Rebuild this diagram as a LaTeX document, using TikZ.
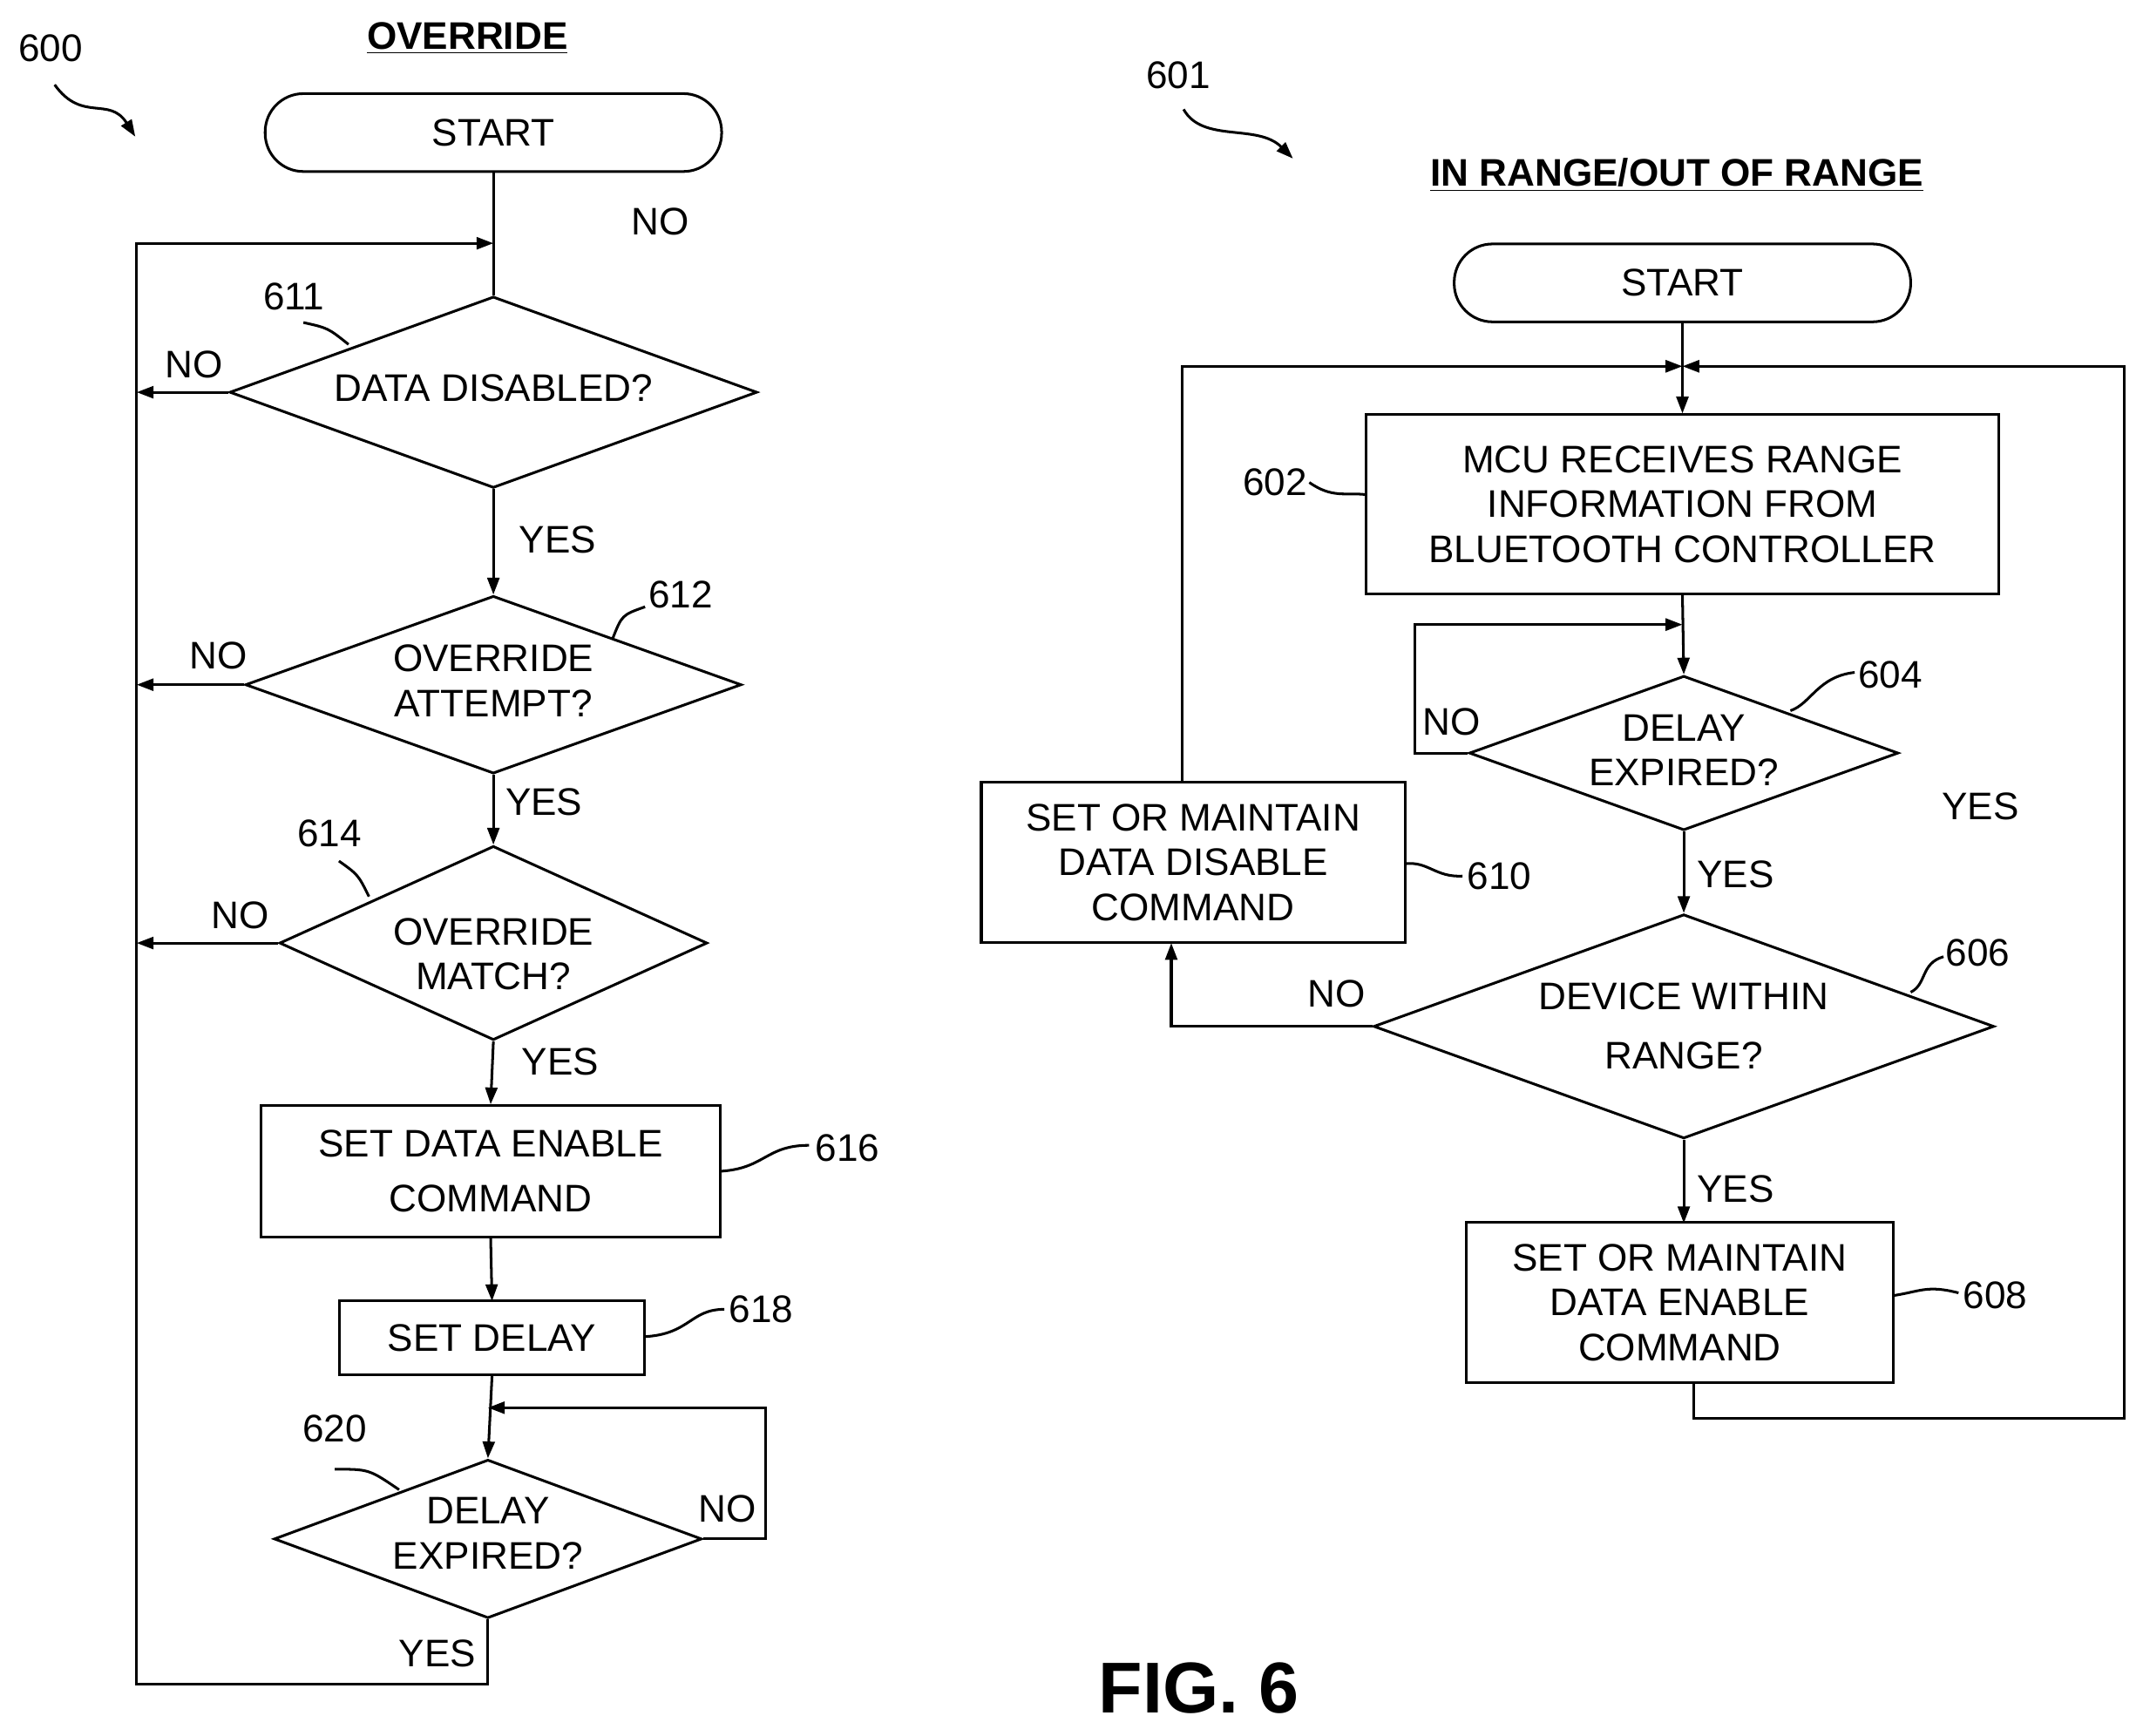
\documentclass[tikz,border=0pt]{standalone}
\usepackage{fontspec}
\setmainfont{Liberation Sans}
\usetikzlibrary{arrows.meta,shapes.geometric}
\begin{document}
\begin{tikzpicture}[x=0.02cm,y=-0.02cm,
  every node/.style={font=\fontsize{16}{18.7}\selectfont, align=center, inner sep=0},
  ln/.style={line width=1.1pt},
  ar/.style={ln,-{Triangle[length=7pt,width=5pt]}},
  box/.style={draw, ln, inner sep=0},
  dia/.style={draw, ln, diamond, inner sep=0},
  lab/.style={font=\fontsize{16}{18}\selectfont},
  ttl/.style={font=\fontsize{16}{18}\selectfont\bfseries}]
\useasboundingbox (0,0) rectangle (1568,1270);
% ---------- left chart ----------
\node[lab] (l600) at (37,35) {600};
\coordinate (s600a) at (40,62); \coordinate (s600b) at (99,100);
\draw[ar] (s600a) .. controls (60,90) and (80,70) .. (s600b);
\node[ttl] (tovr) at (342,28) {\underline{OVERRIDE}};
\node[box, rounded corners=28*0.02cm, minimum width=334*0.02cm, minimum height=57*0.02cm] (st1) at (361,97) {START};
\node[lab] (n0) at (483,162) {NO};
\node[dia, minimum width=386*0.02cm, minimum height=140*0.02cm] (d611) at (361,287) {};
\node (t611) at (361,284) {DATA DISABLED?};
\node[dia, minimum width=363*0.02cm, minimum height=130*0.02cm] (d612) at (361,501) {};
\node (t612) at (361,498) {OVERRIDE\\ATTEMPT?};
\node[dia, minimum width=313*0.02cm, minimum height=142*0.02cm] (d614) at (361,690) {};
\node (t614) at (361,698) {OVERRIDE\\MATCH?};
\node[box, minimum width=336*0.02cm, minimum height=96*0.02cm] (b616) at (359,857) {SET DATA ENABLE\\[4pt]COMMAND};
\node[box, minimum width=223*0.02cm, minimum height=54*0.02cm] (b618) at (360,979) {SET DELAY};
\node[dia, minimum width=313*0.02cm, minimum height=116*0.02cm] (d620) at (357,1126) {};
\node (t620) at (357,1122) {DELAY\\EXPIRED?};
\coordinate (lj) at (361,178); \coordinate (lbl) at (100,1232); \coordinate (ltl) at (100,178);
\coordinate (lb) at (357,1232);
\draw[ln] (st1.south) -- (d611.north);
\draw[ar] (d620.south) -- (lb) -- (lbl) -- (ltl) -- (lj);
\draw[ar] (d611.west) -- (100,287);
\draw[ar] (d612.west) -- (100,501);
\draw[ar] (d614.west) -- (100,690);
\draw[ar] (d611.south) -- (d612.north);
\draw[ar] (d612.south) -- (d614.north);
\draw[ar] (d614.south) -- (b616.north);
\draw[ar] (b616.south) -- (360,952);
\draw[ar] (b618.south) -- (d620.north);
\coordinate (r620) at (560,1126); \coordinate (r620t) at (560,1030); \coordinate (j620) at (357,1030);
\draw[ar] (d620.east) -- (r620) -- (r620t) -- (j620);
\node[lab] (no1) at (142,267) {NO};
\node[lab] (no2) at (160,480) {NO};
\node[lab] (no3) at (176,670) {NO};
\node[lab] (no4) at (532,1104) {NO};
\node[lab] (y1) at (408,395) {YES};
\node[lab] (y2) at (398,587) {YES};
\node[lab] (y3) at (410,777) {YES};
\node[lab] (y4) at (320,1210) {YES};
\node[lab] (l611) at (215,217) {611};
\draw[ln] (222,236) .. controls (240,240) .. (255,252);
\node[lab] (l612) at (498,435) {612};
\draw[ln] (472,444) .. controls (455,450) .. (448,468);
\node[lab] (l614) at (241,610) {614};
\draw[ln] (248,630) .. controls (262,640) .. (270,656);
\node[lab] (l616) at (620,840) {616};
\draw[ln] (527,857) .. controls (560,855) and (560,838) .. (592,838);
\node[lab] (l618) at (557,958) {618};
\draw[ln] (472,978) .. controls (505,976) and (505,958) .. (530,958);
\node[lab] (l620) at (245,1045) {620};
\draw[ln] (245,1075) .. controls (270,1075) .. (292,1090);
% ---------- right chart ----------
\node[lab] (l601) at (862,55) {601};
\draw[ar] (866,80) .. controls (880,105) and (920,90) .. (946,116);
\node[ttl] (trng) at (1227,128) {\underline{IN RANGE/OUT OF RANGE}};
\node[box, rounded corners=28*0.02cm, minimum width=334*0.02cm, minimum height=57*0.02cm] (st2) at (1231,207) {START};
\node[box, minimum width=463*0.02cm, minimum height=131*0.02cm] (b602) at (1231,369) {MCU RECEIVES RANGE\\INFORMATION FROM\\BLUETOOTH CONTROLLER};
\node[dia, minimum width=314*0.02cm, minimum height=113*0.02cm] (d604) at (1232,551) {};
\node (t604) at (1232,549) {DELAY\\EXPIRED?};
\node[dia, minimum width=454*0.02cm, minimum height=164*0.02cm] (d606) at (1232,751) {};
\node (t606) at (1232,751) {DEVICE WITHIN\\[6pt]RANGE?};
\node[box, minimum width=310*0.02cm, minimum height=117*0.02cm] (b610) at (873,631) {SET OR MAINTAIN\\DATA DISABLE\\COMMAND};
\node[box, minimum width=312*0.02cm, minimum height=117*0.02cm] (b608) at (1229,953) {SET OR MAINTAIN\\DATA ENABLE\\COMMAND};
\coordinate (rj) at (1231,268);
\draw[ln] (st2.south) -- (rj);
\draw[ar] (rj) -- (b602.north);
\draw[ar] (b602.south) -- (d604.north);
\draw[ar] (d604.west) -- (1035,551) -- (1035,457) -- (1231,457);
\draw[ar] (d604.south) -- (d606.north);
\draw[ar] (d606.west) -- (857,751) -- (857,690);
\draw[ar] (865,573) -- (865,268) -- (rj);
\draw[ar] (d606.south) -- (1232,895);
\draw[ar] (1239,1012) -- (1239,1038) -- (1554,1038) -- (1554,268) -- (rj);
\node[lab] (no5) at (1062,528) {NO};
\node[lab] (no6) at (978,727) {NO};
\node[lab] (y5) at (1449,590) {YES};
\node[lab] (y6) at (1270,640) {YES};
\node[lab] (y7) at (1270,870) {YES};
\node[lab] (l602) at (933,353) {602};
\draw[ln] (958,353) .. controls (975,365) and (985,360) .. (1000,362);
\node[lab] (l604) at (1383,494) {604};
\draw[ln] (1357,492) .. controls (1330,495) and (1325,515) .. (1310,520);
\node[lab] (l606) at (1447,697) {606};
\draw[ln] (1422,700) .. controls (1405,705) and (1410,720) .. (1398,726);
\node[lab] (l610) at (1097,641) {610};
\draw[ln] (1028,632) .. controls (1045,630) and (1050,642) .. (1070,641);
\node[lab] (l608) at (1460,948) {608};
\draw[ln] (1385,948) .. controls (1405,945) and (1410,940) .. (1433,946);
\node[font=\fontsize{30}{32}\selectfont\bfseries] (fig) at (877,1235) {FIG. 6};
\end{tikzpicture}
\end{document}
